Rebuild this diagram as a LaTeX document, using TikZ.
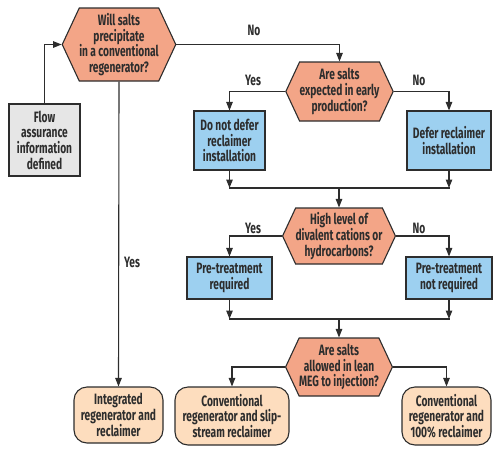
\documentclass[tikz,border=0pt]{standalone}
\usepackage{fontspec}
\setmainfont{Fira Sans}[FakeStretch=0.68]
\usetikzlibrary{arrows.meta,shapes.symbols}
\definecolor{askfill}{RGB}{243,165,135}
\definecolor{stepfill}{RGB}{157,208,240}
\definecolor{endfill}{RGB}{253,221,190}
\definecolor{infofill}{RGB}{230,230,230}
\definecolor{linegray}{RGB}{45,45,45}

\begin{document}
\begin{tikzpicture}[x=1pt,y=-1pt,
    every node/.style={font=\fontsize{15}{15.7}\selectfont\bfseries, text=linegray},
    askbox/.style={shape=signal, signal to=east and west, signal pointer angle=130,
      draw=linegray, line width=1.1pt, fill=askfill, inner sep=0pt, align=center},
    stepbox/.style={rectangle, draw=linegray, line width=1.1pt, fill=stepfill, inner sep=0pt, align=center},
    infobox/.style={stepbox, fill=infofill},
    endbox/.style={rectangle, rounded corners=13pt, draw=linegray, line width=1.1pt, fill=endfill, inner sep=0pt, align=center},
    flow/.style={draw=linegray, line width=1.1pt, -{Triangle[length=8.5pt,width=6.5pt]}},
    mergeline/.style={draw=linegray, line width=1.1pt, line cap=rect},
    answer/.style={inner sep=0pt}]
    \useasboundingbox (0,0) rectangle (500,453);

    % Questions
    \node[askbox, minimum width=110pt, minimum height=73pt] (q1) at (119,44.5)
      {Will salts\\precipitate\\in a conventional\\regenerator?};
    \node[askbox, minimum width=101pt, minimum height=59pt] (q2) at (339.5,91.5)
      {Are salts\\expected in early\\production?};
    \node[askbox, minimum width=102pt, minimum height=56pt] (q3) at (339,236)
      {High level of\\divalent cations or\\hydrocarbons?};
    \node[askbox, minimum width=100pt, minimum height=58pt] (q4) at (339,367)
      {Are salts\\allowed in lean\\MEG to injection?};

    % Input
    \node[infobox, minimum width=71pt, minimum height=72pt] (info) at (44.5,140)
      {Flow\\assurance\\information\\defined};

    % Actions
    \node[stepbox, minimum width=71pt, minimum height=59pt] (nodefer) at (229.5,140.5)
      {Do not defer\\reclaimer\\installation};
    \node[stepbox, minimum width=84pt, minimum height=59pt] (defer) at (449,140.5)
      {Defer reclaimer\\installation};
    \node[stepbox, minimum width=85pt, minimum height=42pt] (pretreat) at (229.5,278)
      {Pre-treatment\\required};
    \node[stepbox, minimum width=86pt, minimum height=42pt] (nopretreat) at (449,278)
      {Pre-treatment\\not required};

    % Outcomes
    \node[endbox, minimum width=89pt, minimum height=56pt] (integrated) at (118.5,415)
      {Integrated\\regenerator and\\reclaimer};
    \node[endbox, minimum width=114pt, minimum height=58pt] (slipstream) at (232,416)
      {Conventional\\regenerator and slip-\\stream reclaimer};
    \node[endbox, minimum width=89pt, minimum height=58pt] (full) at (446.5,416)
      {Conventional\\regenerator and\\100\% reclaimer};

    % Merge points
    \coordinate (m1) at (339,188);
    \coordinate (m2) at (339,319);

    % Connectors
    \draw[flow] (info.north) |- (q1.west);
    \draw[flow] (q1.east) -| (q2.north);
    \draw[flow] (q1.south) -- (integrated.north);
    \draw[flow] (q2.west) -| (nodefer.north);
    \draw[flow] (q2.east) -| (defer.north);
    \draw[flow] (nodefer.south) -- (nodefer.south |- m1);
    \draw[flow] (defer.south) -- (defer.south |- m1);
    \draw[mergeline] (nodefer.south |- m1) -- (defer.south |- m1);
    \draw[flow] (m1) -- (q3.north);
    \draw[flow] (q3.west) -| (pretreat.north);
    \draw[flow] (q3.east) -| (nopretreat.north);
    \draw[flow] (pretreat.south) -- (pretreat.south |- m2);
    \draw[flow] (nopretreat.south) -- (nopretreat.south |- m2);
    \draw[mergeline] (pretreat.south |- m2) -- (nopretreat.south |- m2);
    \draw[flow] (m2) -- (q4.north);
    \draw[flow] (q4.west) -| (slipstream.north);
    \draw[flow] (q4.east) -| (full.north);

    % Answers
    \node[answer] (a1) at (254,30) {No};
    \node[answer] (a2) at (132,262) {Yes};
    \node[answer] (a3) at (253,80) {Yes};
    \node[answer] (a4) at (419,80) {No};
    \node[answer] (a5) at (253,228) {Yes};
    \node[answer] (a6) at (419,228) {No};
\end{tikzpicture}
\end{document}
